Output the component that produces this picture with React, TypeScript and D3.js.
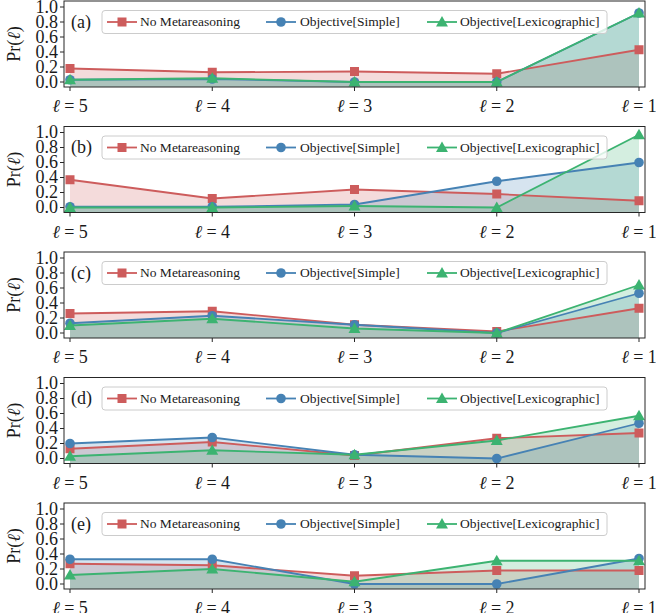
import * as d3 from "d3";

// x categories (left to right)
const levels = ["5", "4", "3", "2", "1"];
const panels = ["(a)", "(b)", "(c)", "(d)", "(e)"];
const seriesNames = ["No Metareasoning", "Objective[Simple]", "Objective[Lexicographic]"];
const yTicks = [0, 0.2, 0.4, 0.6, 0.8, 1.0];

// Pr(l) per panel
const noMeta = [
  [0.18, 0.13, 0.14, 0.11, 0.43],
  [0.37, 0.12, 0.24, 0.18, 0.09],
  [0.26, 0.29, 0.11, 0.02, 0.33],
  [0.13, 0.22, 0.04, 0.27, 0.34],
  [0.27, 0.25, 0.11, 0.18, 0.18],
];
const simple = [
  [0.03, 0.04, 0.0, 0.0, 0.92],
  [0.01, 0.01, 0.04, 0.35, 0.6],
  [0.13, 0.23, 0.11, 0.0, 0.53],
  [0.2, 0.28, 0.05, 0.0, 0.47],
  [0.33, 0.33, 0.0, 0.0, 0.34],
];
const lexico = [
  [0.03, 0.05, 0.0, 0.0, 0.92],
  [0.0, 0.0, 0.02, 0.0, 0.97],
  [0.1, 0.19, 0.06, 0.0, 0.64],
  [0.03, 0.11, 0.05, 0.24, 0.57],
  [0.12, 0.2, 0.03, 0.31, 0.31],
];

const colors = ["#cd5c5c", "#4682b4", "#3cb371"];
const markers = ["square", "circle", "triangle"];

const W = 656;
const H = 613;
const left = 64;
const right = 645;
const FONT = "'Liberation Serif', 'Times New Roman', serif";

function Marker({ kind, x, y, color }: { kind: string; x: number; y: number; color: string }) {
  if (kind === "square") return <rect x={x - 4.5} y={y - 4.5} width={9} height={9} fill={color} />;
  if (kind === "circle") return <circle cx={x} cy={y} r={4.8} fill={color} />;
  const p = d3.symbol(d3.symbolTriangle, 62)();
  return <path d={p as string} transform={`translate(${x},${y + 1})`} fill={color} />;
}

function Panel({ idx }: { idx: number }) {
  const bottom = 87 + 125.5 * idx;
  const top = bottom - 86;
  const x = d3.scaleLinear().domain([0, levels.length - 1]).range([70, 639]);
  const y = d3.scaleLinear().domain([0, 1]).range([bottom - 5, bottom - 80]);
  const data = [noMeta[idx], simple[idx], lexico[idx]];
  const line = d3.line<number>().x((_, i) => x(i)).y((d) => y(d));
  const area = d3.area<number>().x((_, i) => x(i)).y0(bottom).y1((d) => y(d));
  const clipId = `clip${idx}`;
  const legY = top + 21;
  const legend = [
    { hx: 107, tx: 140 },
    { hx: 266, tx: 300 },
    { hx: 427, tx: 460 },
  ];
  return (
    <g>
      <defs>
        <clipPath id={clipId}>
          <rect x={left} y={top} width={right - left} height={bottom - top} />
        </clipPath>
      </defs>
      <g clipPath={`url(#${clipId})`}>
        {data.map((s, k) => (
          <path key={`a${k}`} d={area(s) as string} fill={colors[k]} fillOpacity={0.22} />
        ))}
      </g>
      {data.map((s, k) => (
        <g key={`l${k}`}>
          <path d={line(s) as string} fill="none" stroke={colors[k]} strokeWidth={1.8} />
          {s.map((v, i) => (
            <Marker key={i} kind={markers[k]} x={x(i)} y={y(v)} color={colors[k]} />
          ))}
        </g>
      ))}
      <rect x={left} y={top} width={right - left} height={bottom - top} fill="none" stroke="#262626" strokeWidth={1} />
      {yTicks.map((t) => (
        <g key={t}>
          <line x1={left - 4} x2={left} y1={y(t)} y2={y(t)} stroke="#262626" />
          <text x={left - 6} y={y(t)} dy="0.33em" textAnchor="end" fontSize={18} fontFamily={FONT} fill="#1a1a1a">
            {t.toFixed(1)}
          </text>
        </g>
      ))}
      {levels.map((l, i) => (
        <g key={l}>
          <line x1={x(i)} x2={x(i)} y1={bottom} y2={bottom + 4} stroke="#262626" />
          <text x={x(i)} y={bottom + 25} textAnchor="middle" fontSize={18} fontFamily={FONT} fill="#1a1a1a">
            <tspan fontStyle="italic">ℓ</tspan>
            {" = "}
            {l}
          </text>
        </g>
      ))}
      <text
        transform={`translate(20,${(top + bottom) / 2}) rotate(-90)`}
        textAnchor="middle"
        fontSize={18}
        fontFamily={FONT}
        fill="#1a1a1a"
      >
        Pr(<tspan fontStyle="italic">ℓ</tspan>)
      </text>
      <text x={71} y={legY} dy="0.33em" fontSize={18} fontFamily={FONT} fill="#1a1a1a">
        {panels[idx]}
      </text>
      <rect x={102} y={legY - 11.5} width={505} height={23} rx={3} fill="white" fillOpacity={0.8} stroke="#cccccc" />
      {legend.map((e, k) => (
        <g key={k}>
          <line x1={e.hx} x2={e.hx + 30} y1={legY} y2={legY} stroke={colors[k]} strokeWidth={1.8} />
          <Marker kind={markers[k]} x={e.hx + 15} y={legY} color={colors[k]} />
          <text x={e.tx} y={legY} dy="0.33em" fontSize={13.5} fontFamily={FONT} fill="#1a1a1a">
            {seriesNames[k]}
          </text>
        </g>
      ))}
    </g>
  );
}

export default function App() {
  return (
    <svg width={W} height={H} style={{ position: "absolute", left: 0, top: 0, background: "white" }}>
      {panels.map((_, i) => (
        <Panel key={i} idx={i} />
      ))}
    </svg>
  );
}
